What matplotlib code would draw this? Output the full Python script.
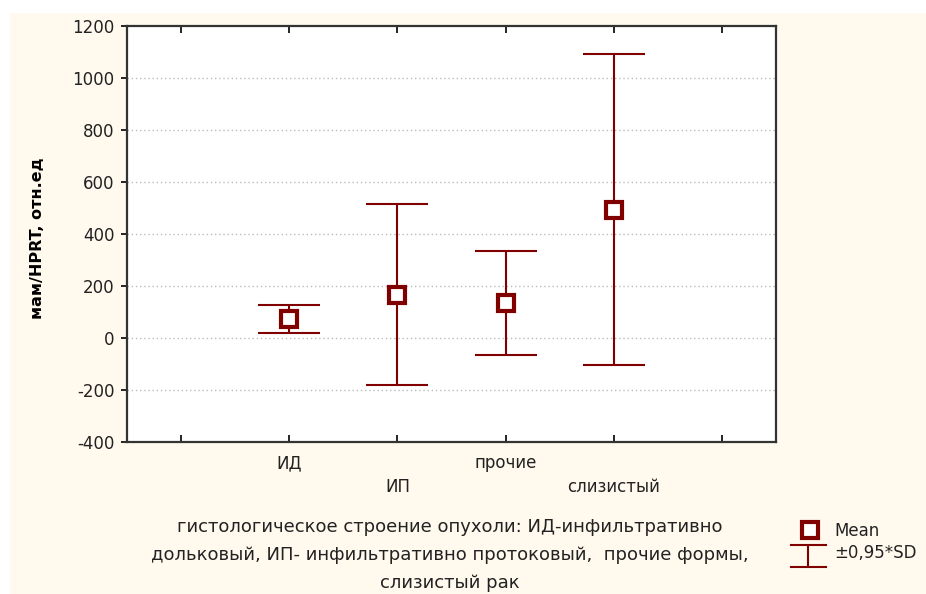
import numpy as np
import matplotlib
matplotlib.use("Agg")
import matplotlib.pyplot as plt
from matplotlib.lines import Line2D
from matplotlib.patches import Rectangle

plt.rcParams['font.family'] = ['DejaVu Sans']

# ------------------ данные ------------------
groups = ["ИД", "ИП", "прочие", "слизистый"]
means = [73, 167, 136, 494]
half_sd = [54, 348, 200, 598]   # ±0,95*SD
y_ticks = [-400, -200, 0, 200, 400, 600, 800, 1000, 1200]
caption = ["гистологическое строение опухоли: ИД-инфильтративно",
           "дольковый, ИП- инфильтративно протоковый,  прочие формы,",
           "слизистый рак"]

red = "#800000"
cream = "#FFF9EE"
txt = "#222222"
fs = 12

fig = plt.figure(figsize=(9.26, 5.94), dpi=100)
fig.patch.set_facecolor("white")
# кремовая подложка, как в Statistica
fig.patches.append(Rectangle((10 / 926, 0), 1, 1 - 13 / 594, transform=fig.transFigure,
                             facecolor=cream, edgecolor="none", zorder=-10))

ax = fig.add_axes([127 / 926, 1 - 442 / 594, 649 / 926, 416 / 594])
ax.set_facecolor("white")

x = np.arange(1, len(groups) + 1)
ax.errorbar(x, means, yerr=half_sd, fmt="none", ecolor=red, elinewidth=1.5,
            capsize=22, capthick=1.5, zorder=3)
ax.plot(x, means, linestyle="none", marker="s", markersize=11, markerfacecolor="white",
        markeredgecolor=red, markeredgewidth=3, zorder=4)

ax.set_xlim(-0.5, len(groups) + 1.5)
ax.set_ylim(-400, 1200)
ax.set_yticks(y_ticks)
ax.set_yticklabels([str(v) for v in y_ticks], fontsize=fs, color=txt)
ax.set_xticks(np.arange(0, len(groups) + 2))
# подписи в два ряда
xlabels = [""] + [g if i % 2 == 0 else "\n" + g for i, g in enumerate(groups)] + [""]
ax.set_xticklabels(xlabels, fontsize=fs, color=txt, linespacing=1.4, va="top")
ax.tick_params(axis="x", direction="in", length=5, width=1.2, top=True, pad=9)
ax.tick_params(axis="y", direction="out", length=4, width=1.2, pad=5)

for v in y_ticks[1:-1]:
    ax.axhline(v, color="#bbbbbb", linestyle=(0, (1, 2)), linewidth=1, zorder=1)
for s in ax.spines.values():
    s.set_linewidth(1.6)
    s.set_color("#333333")

ax.set_ylabel("мам/HPRT, отн.ед", fontsize=11.5, fontweight="bold")
ax.yaxis.set_label_coords(-0.126, 0.49)

for i, line in enumerate(caption):
    fig.text(450 / 926, 1 - (527 + 28 * i) / 594, line,
             ha="center", va="center", fontsize=13, color=txt)

# легенда
fig.lines.append(Line2D([810 / 926], [1 - 530 / 594], transform=fig.transFigure,
                        marker="s", markersize=11, markerfacecolor="white",
                        markeredgecolor=red, markeredgewidth=3, linestyle="none"))
fig.lines.append(Line2D([808 / 926, 808 / 926], [1 - 545 / 594, 1 - 567 / 594],
                        transform=fig.transFigure, color=red, linewidth=1.5))
fig.lines.append(Line2D([791 / 926, 826 / 926], [1 - 545 / 594, 1 - 545 / 594],
                        transform=fig.transFigure, color=red, linewidth=1.5))
fig.lines.append(Line2D([791 / 926, 826 / 926], [1 - 567 / 594, 1 - 567 / 594],
                        transform=fig.transFigure, color=red, linewidth=1.5))
fig.text(834 / 926, 1 - 531 / 594, "Mean", ha="left", va="center", fontsize=fs, color=txt)
fig.text(834 / 926, 1 - 553 / 594, "±0,95*SD", ha="left", va="center", fontsize=fs, color=txt)

fig.savefig("out.png", dpi=100, facecolor=fig.get_facecolor())
